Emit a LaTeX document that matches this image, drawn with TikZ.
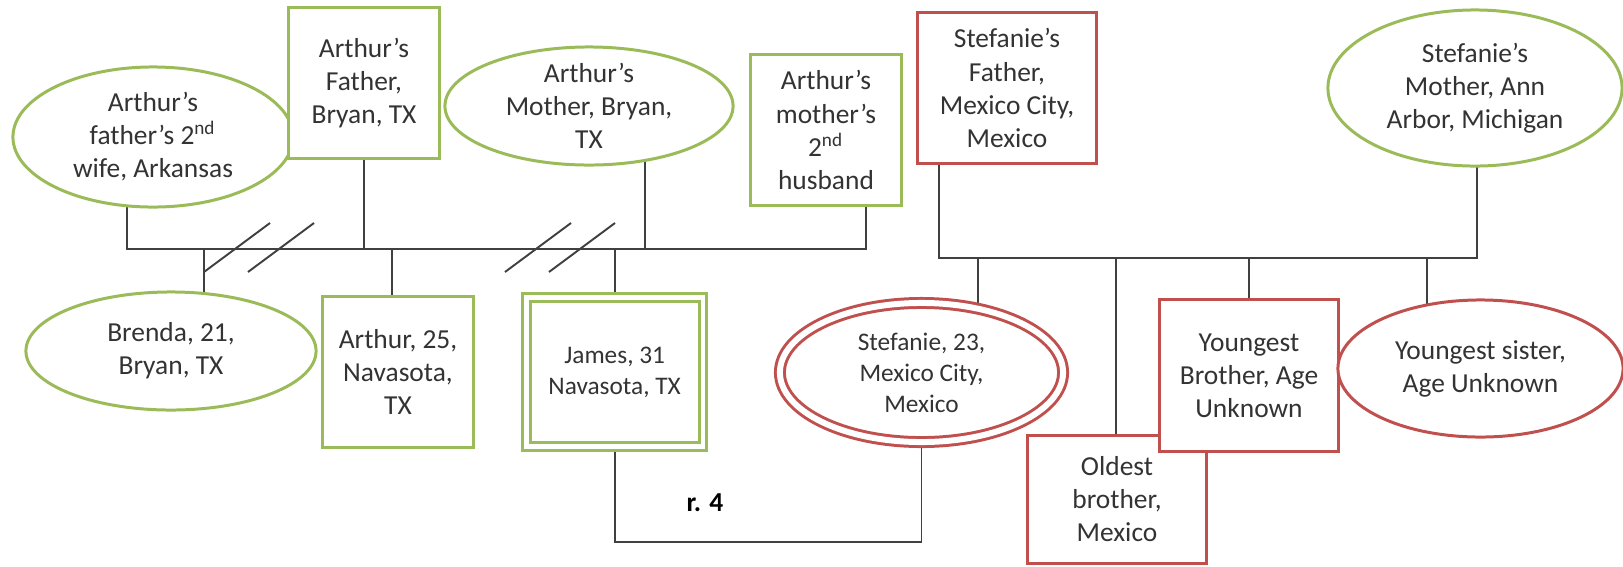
\documentclass[tikz,border=0pt]{standalone}
\usepackage{fontspec}
\setmainfont{Carlito}
\usetikzlibrary{shapes,backgrounds}

\definecolor{kingreen}{HTML}{9BBB59}
\definecolor{kinred}{HTML}{C0504D}
\definecolor{kintext}{HTML}{333333}
\definecolor{kinline}{HTML}{404040}

\begin{document}
\begin{tikzpicture}[x=0.01cm,y=-0.01cm]
    % genogram: Arthur's family on the left, Stefanie's on the right
    \tikzstyle{person} = [align=center, text=kintext, fill=white, line width=0.85pt, font=\fontsize{7.8}{9.4}\selectfont];
    \tikzstyle{gbox} = [person, draw=kingreen, rectangle, inner sep=2pt, minimum width=1.5cm, minimum height=1.5cm];
    \tikzstyle{rbox} = [person, draw=kinred, rectangle, inner sep=2pt, minimum width=1.78cm, minimum height=1.51cm];
    \tikzstyle{gell} = [person, draw=kingreen, ellipse, inner xsep=0pt, inner ysep=-3pt];
    \tikzstyle{rell} = [person, draw=kinred, ellipse, inner xsep=0pt, inner ysep=-3pt];
    \tikzstyle{small} = [font=\fontsize{7.2}{8.8}\selectfont];
    \tikzstyle{tie} = [draw=kinline, line width=0.55pt];

    \useasboundingbox (0,0) rectangle (1623,566);

    % parents
    \node[gell, minimum width=2.8cm, minimum height=1.4cm] (fwife) at (153,137) {Arthur’s\\father’s 2\textsuperscript{nd}\\wife, Arkansas};
    \node[gbox] (afather) at (364,83) {Arthur’s\\Father,\\Bryan, TX};
    \node[gell, minimum width=2.88cm, minimum height=1.18cm] (amother) at (589,106) {Arthur’s\\Mother, Bryan,\\TX};
    \node[gbox] (ahusband) at (826,130) {Arthur’s\\mother’s\\2\textsuperscript{nd}\\husband};
    \node[rbox] (sfather) at (1007,88) {Stefanie’s\\Father,\\Mexico City,\\Mexico};
    \node[gell, minimum width=2.94cm, minimum height=1.56cm] (smother) at (1475,88) {Stefanie’s\\Mother, Ann\\Arbor, Michigan};

    % children
    \node[gell, minimum width=2.9cm, minimum height=1.18cm] (brenda) at (171,351) {Brenda, 21,\\Bryan, TX};
    \node[gbox] (arthur) at (398,372) {Arthur, 25,\\Navasota,\\TX};
    \node[gbox, small, double, double distance=1.2pt, minimum width=1.76cm, minimum height=1.49cm, right of=arthur, node distance=2.165cm] (james) {James, 31\\Navasota, TX};
    \node[rell, small, double, double distance=1.7pt, minimum width=2.83cm, minimum height=1.39cm] (stef) at (921.5,372.5) {Stefanie, 23,\\Mexico City,\\Mexico};
    \node[rbox, minimum height=1.27cm] (obro) at (1117,499.5) {Oldest\\brother,\\Mexico};
    \node[rbox] (ybro) at (1249,375.5) {Youngest\\Brother, Age\\Unknown};
    \node[rell, minimum width=2.85cm, minimum height=1.37cm] (ysis) at (1480.5,368.5) {Youngest sister,\\Age Unknown};

    \node[font=\fontsize{7.8}{9.4}\selectfont\bfseries] (rel) at (705,503) {r. 4};

    \begin{pgfonlayer}{background}
        \coordinate (lbar) at (127,249);
        \coordinate (rbar) at (866,249);
        \coordinate (mtop) at (645,249);
        \coordinate (bdrop) at (204,249);
        \coordinate (adrop) at (392,249);
        \coordinate (sbar) at (939,258);
        \coordinate (sbarr) at (1477,258);
        \coordinate (d1) at (978,258);
        \coordinate (d2) at (1116,258);
        \coordinate (d3) at (1249,258);
        \coordinate (d4) at (1427,258);

        \draw[tie] (fwife.center -| lbar) -- (lbar) -- (rbar) -- (ahusband.center -| rbar);
        \draw[tie] (afather) -- (afather |- lbar);
        \draw[tie] (amother.center -| mtop) -- (mtop);
        \draw[tie] (bdrop) -- (bdrop |- brenda.center);
        \draw[tie] (adrop) -- (adrop |- arthur.center);
        \draw[tie] (james |- lbar) -- (james);

        \draw[tie] (sfather.center -| sbar) -- (sbar) -- (sbarr) -- (smother.center -| sbarr);
        \draw[tie] (d1) -- (d1 |- stef.center);
        \draw[tie] (d2) -- (d2 |- obro.center);
        \draw[tie] (d3) -- (d3 |- ybro.center);
        \draw[tie] (d4) -- (d4 |- ysis.center);

        % marriage line
        \draw[tie] (james) -- ++(0,170) -| (stef);
    \end{pgfonlayer}

    % divorce marks
    \foreach \x in {204,248,505,549}
        \draw[tie] (\x,272) -- ++(66,-49);

\end{tikzpicture}
\end{document}
